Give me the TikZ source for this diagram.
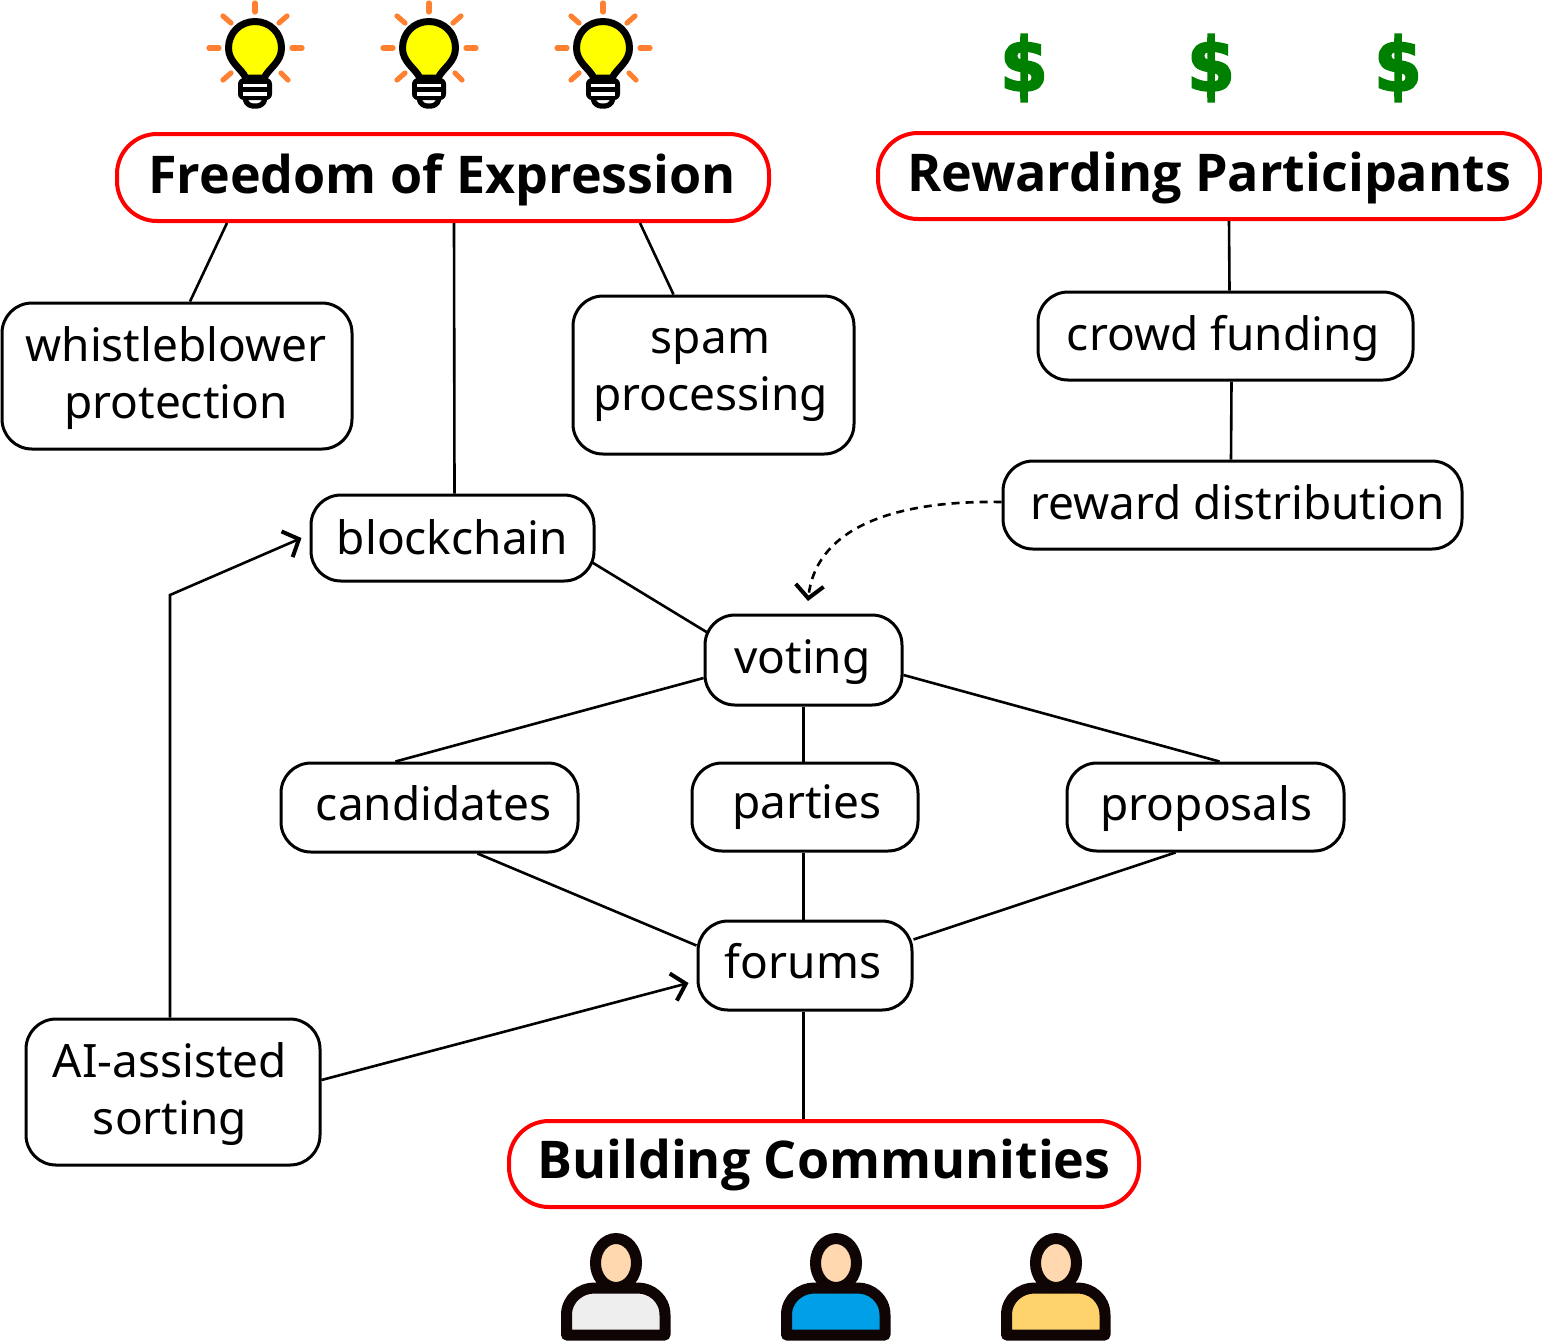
\documentclass[tikz,border=0pt]{standalone}
\usepackage{fontspec}
\setmainfont{Noto Sans}
\newfontfamily\titlefont{Open Sans}
\newfontfamily\dollarfont[BoldFeatures={FakeBold=3,FakeStretch=.92}]{DejaVu Sans}
\usetikzlibrary{arrows.meta}

\definecolor{rayorange}{HTML}{FF8030}
\definecolor{skincol}{HTML}{FFD8B0}
\definecolor{dollargreen}{HTML}{008000}
\definecolor{bulbyellow}{HTML}{FFFF00}
\definecolor{outlinecol}{HTML}{100505}
\definecolor{shirtgray}{HTML}{EEEEEE}
\definecolor{shirtblue}{HTML}{00A0E9}
\definecolor{shirtyellow}{HTML}{FFD36B}

% moves a text line inside its box
\newcommand{\nudge}[3]{\raisebox{#2}[\height][\depth]{\hspace*{#1}#3\hspace*{-#1}}}

\tikzset{
  bulb/.pic={
    \foreach \ax/\ay/\cx/\cy in {0/-45/0/-36,-46/0/-36/0,37/0/47/0,-32/-32/-24/-25,32/-32/24/-25,-32/32/-24/25,33/32/26/25}
      \draw[rayorange,line width=2.6pt,line cap=round] (\ax,\ay) -- (\cx,\cy);
    \draw[black,line width=2.6pt,fill=white,rounded corners=3pt] (-10,50) -- (-8,58) -- (8,58) -- (10,50);
    \fill[black,rounded corners=3pt] (-17,30) rectangle (17,52);
    \draw[white,line width=1.6pt] (-12,37.5) -- (12,37.5) (-12,46) -- (12,46);
    \draw[black,line width=3.5pt,fill=bulbyellow,line join=round] (-9,30) .. controls (-14,20) and (-26.5,14) .. (-26.5,0) .. controls (-26.5,-15) and (-15,-26.5) .. (0,-26.5) .. controls (15,-26.5) and (26.5,-15) .. (26.5,0) .. controls (26.5,14) and (14,20) .. (9,30) -- cycle;
  },
  person/.pic={
    \draw[outlinecol,line width=5.5pt,fill=#1,line join=round] (-49.5,72) -- (-49.5,52) .. controls (-49.5,35) and (-35,25) .. (-22,25) -- (22,25) .. controls (35,25) and (49,35) .. (49,52) -- (49,72) -- cycle;
    \draw[outlinecol,line width=5.5pt,fill=skincol] (0,0) ellipse [x radius=20.5,y radius=24.5];
  },
}

\begin{document}
\begin{tikzpicture}[x=.5pt,y=-.5pt,
  textfont/.style={font=\fontsize{23}{28.5}\selectfont},
  ibox/.style={draw,line width=1.5pt,rounded corners=15pt,align=center,inner sep=0pt,textfont},
  goal/.style={draw=red,line width=2pt,rounded corners=20pt,inner sep=0pt,font=\fontsize{26}{30}\titlefont\bfseries},
  link/.style={line width=1.3pt},
  flow/.style={line width=1.3pt,-{Straight Barb[length=6.5pt,width=14pt,line width=2pt]}},
  dollar/.style={text=dollargreen,inner sep=0pt,font=\fontsize{37}{37}\dollarfont\bfseries},
]
\useasboundingbox (0,0) rectangle (1542,1341);

% icons
\foreach \bx in {255,429,603}
  \pic at (\bx,48) {bulb};
\foreach \dx [count=\i] in {1024,1211,1398}
  \node[dollar] (dollar\i) at (\dx,68) {\$};
\pic at (616,1263) {person={shirtgray}};
\pic at (836,1263) {person={shirtblue}};
\pic at (1056,1263) {person={shirtyellow}};

% goals
\node[goal,minimum width=326pt,minimum height=43.5pt] (freedom) at (443,177.5) {\nudge{-.5pt}{-1pt}{Freedom of Expression}};
\node[goal,minimum width=331pt,minimum height=43pt] (rewarding) at (1209,176) {\nudge{0pt}{-1pt}{Rewarding Participants}};
\node[goal,minimum width=315pt,minimum height=43pt] (building) at (824,1164) {\nudge{0pt}{-.5pt}{Building Communities}};

% boxes
\node[ibox,minimum width=175pt,minimum height=73pt] (whistle) at (177,376) {\nudge{-.5pt}{-1pt}{whistleblower}\\\nudge{-.5pt}{-1pt}{protection}};
\node[ibox,minimum width=140.5pt,minimum height=79pt] (spam) at (713.5,375) {\nudge{-1.5pt}{0pt}{spam}\\\nudge{-1.5pt}{0pt}{processing}};
\node[ibox,minimum width=187.5pt,minimum height=44pt] (crowd) at (1225.5,336) {\nudge{-1pt}{-1pt}{crowd funding}};
\node[ibox,minimum width=229.5pt,minimum height=44pt] (reward) at (1232.5,505) {\nudge{2.5pt}{1.5pt}{reward distribution}};
\node[ibox,minimum width=141.5pt,minimum height=43pt] (blockchain) at (452.5,538) {\nudge{0pt}{.5pt}{blockchain}};
\node[ibox,minimum width=98.5pt,minimum height=45pt] (voting) at (803.5,660) {\nudge{-.5pt}{-1pt}{voting}};
\node[ibox,minimum width=148.5pt,minimum height=44.5pt] (candidates) at (429.5,807.5) {\nudge{2pt}{2pt}{candidates}};
\node[ibox,minimum width=113pt,minimum height=44pt] (parties) at (805,807) {\nudge{1pt}{0pt}{parties}};
\node[ibox,minimum width=138.5pt,minimum height=44pt] (proposals) at (1205.5,807) {\nudge{.5pt}{-1pt}{proposals}};
\node[ibox,minimum width=107pt,minimum height=44.5pt] (forums) at (805,965.5) {\nudge{-1pt}{2pt}{forums}};
\node[ibox,minimum width=147pt,minimum height=73pt] (sorting) at (173,1092) {\nudge{-1.5pt}{-1pt}{AI-assisted}\\\nudge{-1.5pt}{-1pt}{sorting}};

\coordinate (votingtop) at (808,601);
\coordinate (bend) at (170,595);

% connectors
\draw[link] ([xshift=-108pt]freedom.south) -- ([xshift=6.5pt]whistle.north);
\draw[link] ([xshift=5.5pt]freedom.south) -- ([xshift=1pt]blockchain.north);
\draw[link] ([xshift=98.5pt]freedom.south) -- ([xshift=-20pt]spam.north);
\draw[link] ([xshift=10pt]rewarding.south) -- ([xshift=2pt]crowd.north);
\draw[link] ([xshift=3pt]crowd.south) -- ([xshift=-.75pt]reward.north);
\draw[link] ([shift={(-2pt,-12pt)}]blockchain.east) -- ([shift={(1.5pt,14pt)}]voting.west);
\draw[link] ([yshift=-9pt]voting.west) -- ([xshift=-17pt]candidates.north);
\draw[link] (voting.south) -- (voting.south |- parties.north);
\draw[link] ([yshift=-7.5pt]voting.east) -- ([xshift=7pt]proposals.north);
\draw[link] ([xshift=24pt]candidates.south) -- ([yshift=10pt]forums.west);
\draw[link] (voting.south |- parties.south) -- (voting.south |- forums.north);
\draw[link] ([xshift=-15pt]proposals.south) -- ([yshift=13pt]forums.east);
\draw[link] (voting.south |- forums.south) -- (voting.south |- building.north);
\draw[flow,dash pattern=on 4pt off 3pt] ([yshift=1.5pt]reward.west) .. controls (880,500) and (815,535) .. (votingtop);
\draw[flow] ([yshift=6pt]sorting.east) -- ([shift={(-4pt,-8.75pt)}]forums.west);
\draw[flow] (sorting.north -| bend) -- (bend) -- ([xshift=-4pt]blockchain.west);
\end{tikzpicture}
\end{document}
